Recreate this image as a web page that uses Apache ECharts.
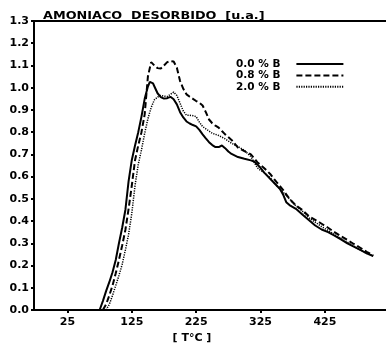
<!DOCTYPE html>
<html><head><meta charset="utf-8">
<script src="https://cdn.jsdelivr.net/npm/echarts@6/dist/echarts.min.js"></script>
<style>html,body{margin:0;padding:0;background:#fff}#c{width:386px;height:343px}</style>
</head><body><div id="c"></div>
<script>
const seriesNames = ['0.0 % B', '0.8 % B', '2.0 % B'];
const xTickLabels = [25, 125, 225, 325, 425];
const yTickStep = 0.1;

const t00 = [75,80,85,90,95,100,105,110,115,120,125,130,135,140,145,150,153,158,165,170,175,180,185,190,195,200,205,210,215,220,225,230,235,240,245,250,255,260,265,270,275,280,290,300,310,315,320,325,330,340,350,355,360,365,370,380,390,400,410,420,430,440,450,460,470,480,490,500];
const v00 = [0,0.04,0.085,0.125,0.17,0.225,0.30,0.37,0.45,0.58,0.675,0.74,0.80,0.87,0.95,1.005,1.026,1.019,0.975,0.958,0.951,0.953,0.959,0.948,0.925,0.89,0.866,0.848,0.839,0.832,0.826,0.81,0.79,0.772,0.755,0.742,0.733,0.733,0.74,0.728,0.713,0.702,0.688,0.68,0.673,0.668,0.655,0.64,0.62,0.59,0.56,0.545,0.52,0.485,0.472,0.455,0.43,0.405,0.38,0.362,0.35,0.335,0.318,0.30,0.285,0.27,0.255,0.243];

const t08 = [80,85,90,95,100,105,110,115,120,125,130,135,140,145,150,155,160,165,170,175,180,185,190,195,200,205,210,215,220,225,230,235,240,245,250,255,260,265,270,280,290,300,310,320,330,340,350,360,370,380,390,400,410,420,430,440,450,460,470,480,490,500];
const v08 = [0,0.025,0.065,0.11,0.165,0.225,0.29,0.36,0.455,0.56,0.674,0.74,0.80,0.88,1.05,1.115,1.10,1.088,1.086,1.10,1.115,1.12,1.118,1.09,1.03,0.995,0.97,0.959,0.95,0.94,0.932,0.92,0.89,0.857,0.84,0.829,0.82,0.805,0.79,0.765,0.73,0.715,0.70,0.665,0.64,0.612,0.575,0.54,0.50,0.47,0.45,0.422,0.405,0.388,0.37,0.35,0.332,0.315,0.297,0.28,0.262,0.245];

const t20 = [85,90,95,100,105,110,115,120,125,130,135,140,145,150,155,160,165,170,175,180,185,190,195,200,205,210,215,220,225,230,235,240,245,250,260,270,280,290,300,310,320,325,330,340,350,360,370,380,390,400,410,420,430,440,450,460,470,480,490,500];
const v20 = [0,0.025,0.065,0.11,0.155,0.205,0.27,0.34,0.435,0.56,0.655,0.72,0.795,0.86,0.91,0.945,0.958,0.965,0.962,0.96,0.97,0.98,0.965,0.93,0.895,0.876,0.876,0.874,0.87,0.845,0.825,0.815,0.805,0.795,0.785,0.77,0.75,0.735,0.718,0.69,0.64,0.628,0.62,0.595,0.56,0.53,0.50,0.468,0.445,0.415,0.395,0.375,0.358,0.34,0.322,0.305,0.287,0.27,0.255,0.242];

const zip = (t, v) => t.map((x, i) => [x, v[i]]);
const FONT = 'DejaVu Sans';
const chart = echarts.init(document.getElementById('c'), null, {renderer: 'canvas'});
const axisLineStyle = {color: '#000', width: 2};
chart.setOption({
  backgroundColor: '#fff',
  animation: false,
  graphic: [{
    type: 'text', x: 43, y: 11, scaleX: 1.28,
    style: {text: 'AMONIACO  DESORBIDO  [u.a.]', font: 'bold 10px "DejaVu Sans"', fill: '#000', textVerticalAlign: 'top'}
  }],
  legend: {
    data: seriesNames, orient: 'vertical', left: 236, top: 58.5, padding: 0,
    align: 'right', itemWidth: 47, itemHeight: 10, itemGap: 0.4,
    itemStyle: {opacity: 0},
    formatter: n => n + '   ',
    textStyle: {fontFamily: FONT, fontWeight: 'bold', fontSize: 10.5, color: '#000'}
  },
  grid: {left: 34, right: 0, top: 21, bottom: 33, containLabel: false, outerBoundsMode: 'none'},
  xAxis: [{
    type: 'value', min: -27, max: 520,
    axisLine: {show: true, onZero: false, lineStyle: axisLineStyle},
    axisTick: {show: true, length: 3, customValues: xTickLabels, lineStyle: {color: '#000', width: 2}},
    axisLabel: {customValues: xTickLabels, margin: 7, fontFamily: FONT, fontWeight: 'bold', fontSize: 11, color: '#000'},
    splitLine: {show: false},
    name: '[ T°C ]', nameLocation: 'middle', nameGap: 21,
    nameTextStyle: {fontFamily: FONT, fontWeight: 'bold', fontSize: 11, color: '#000', padding: [0, 36, 0, 0]}
  }, {
    type: 'value', position: 'top', min: -27, max: 520,
    axisLine: {show: true, onZero: false, lineStyle: axisLineStyle},
    axisTick: {show: false}, axisLabel: {show: false}, splitLine: {show: false}
  }],
  yAxis: {
    type: 'value', min: 0, max: 1.3, interval: yTickStep,
    axisLine: {show: true, onZero: false, lineStyle: axisLineStyle},
    axisTick: {show: true, length: 3, lineStyle: {color: '#000', width: 2}},
    axisLabel: {margin: 5, formatter: v => v.toFixed(1), fontFamily: FONT, fontWeight: 'bold', fontSize: 11, color: '#000'},
    splitLine: {show: false}
  },
  series: [
    {name: seriesNames[0], type: 'line', data: zip(t00, v00), symbol: 'none', lineStyle: {color: '#000', width: 2, type: 'solid'}, itemStyle: {color: '#000'}},
    {name: seriesNames[1], type: 'line', data: zip(t08, v08), symbol: 'none', lineStyle: {color: '#000', width: 2, type: [6, 3]}, itemStyle: {color: '#000'}},
    {name: seriesNames[2], type: 'line', data: zip(t20, v20), symbol: 'none', lineStyle: {color: '#000', width: 1.5, type: [1.2, 1.2]}, itemStyle: {color: '#000'}}
  ]
});
</script></body></html>
